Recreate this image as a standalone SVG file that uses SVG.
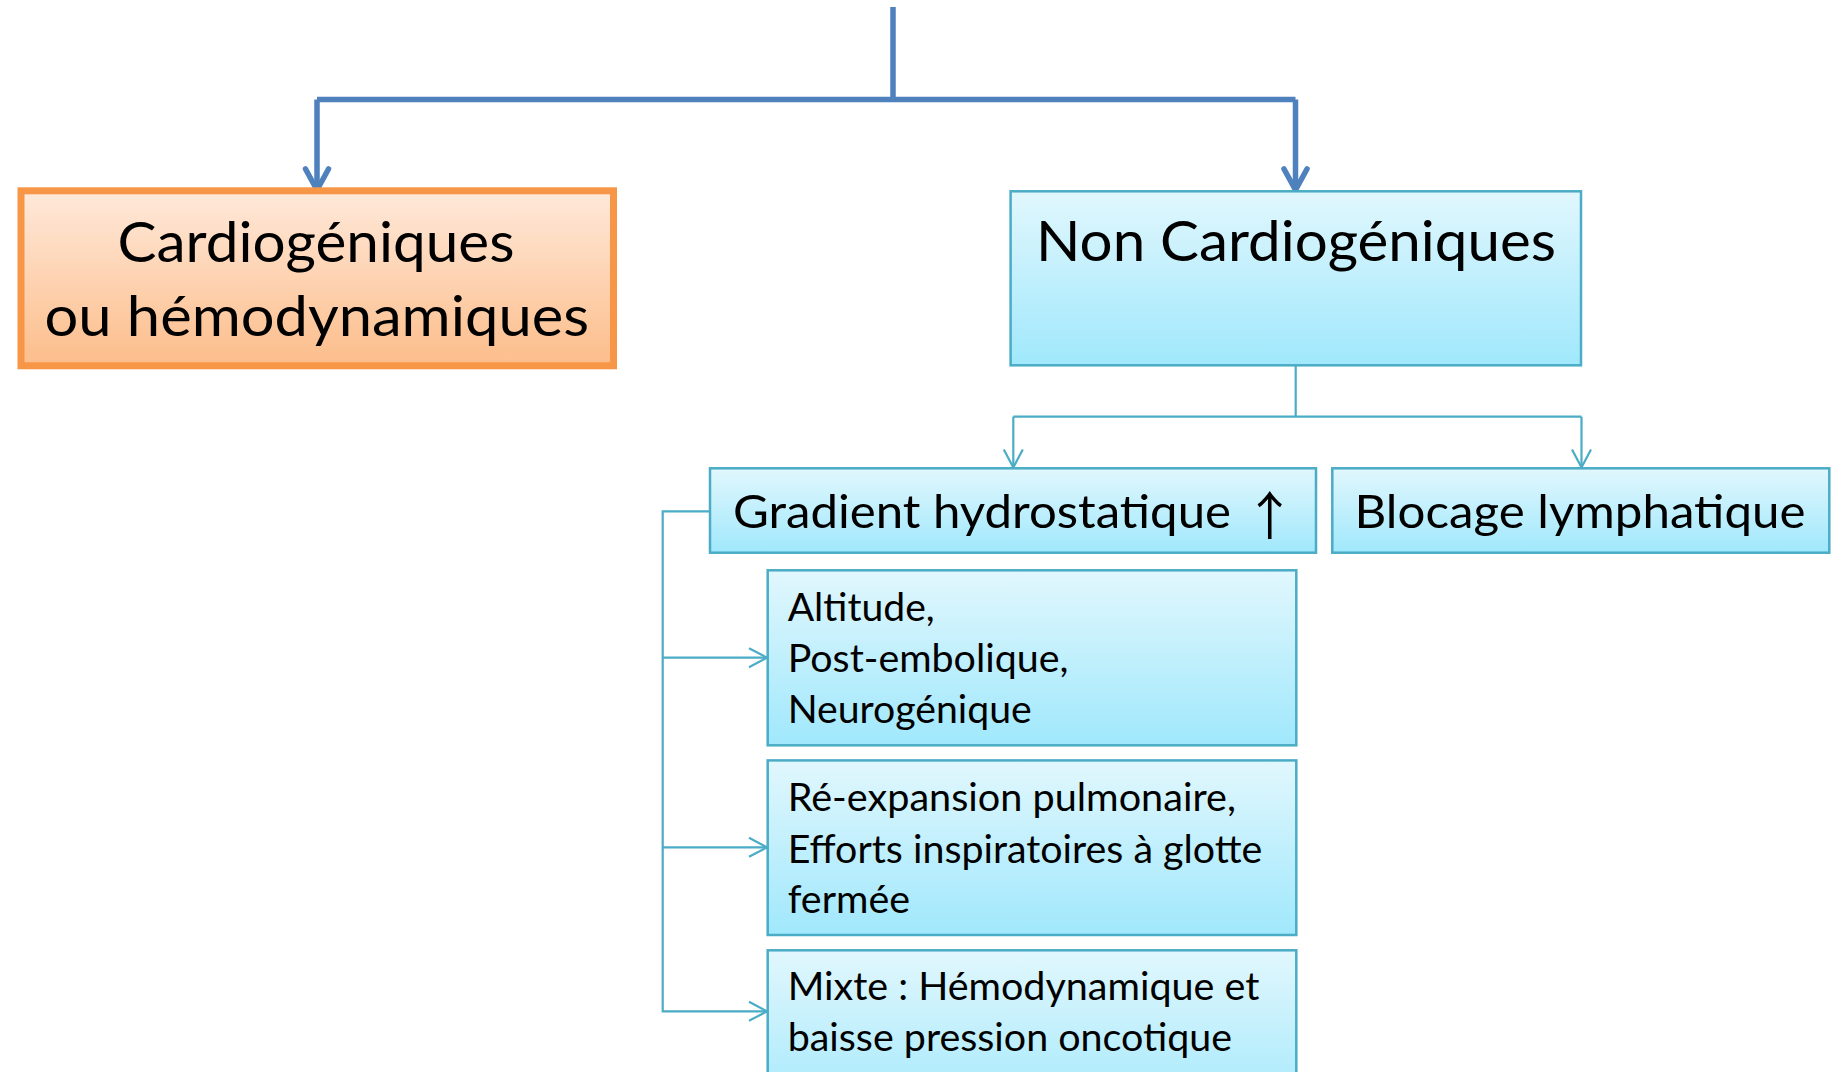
<svg xmlns="http://www.w3.org/2000/svg" width="1832" height="1072" viewBox="0 0 1832 1072">
  <defs>
    <linearGradient id="gOrange" x1="0" y1="0" x2="0" y2="1">
      <stop offset="0" stop-color="#FFE9DA"/>
      <stop offset="1" stop-color="#FCBD8A"/>
    </linearGradient>
    <linearGradient id="gCyan" x1="0" y1="0" x2="0" y2="1">
      <stop offset="0" stop-color="#E1F7FD"/>
      <stop offset="1" stop-color="#A0E8FC"/>
    </linearGradient>
    <marker id="arrBig" markerUnits="userSpaceOnUse" viewBox="-14 -26 28 30" refX="0" refY="0" markerWidth="28" markerHeight="30" orient="auto-start-reverse" overflow="visible">
      <path d="M-11.5,-21 L0,0 L11.5,-21" fill="none" stroke="#4F81BD" stroke-width="5.5" stroke-linecap="round" stroke-linejoin="round" transform="rotate(-90)"/>
    </marker>
    <marker id="arrSmall" markerUnits="userSpaceOnUse" viewBox="-12 -22 24 24" refX="0" refY="0" markerWidth="24" markerHeight="24" orient="auto" overflow="visible">
      <path d="M-9.5,-18 L0,0 L9.5,-18" fill="none" stroke="#4BACC6" stroke-width="2.2" stroke-linejoin="miter" transform="rotate(-90)"/>
    </marker>
  </defs>
  <style>
    .lbl { font-family: Lato, "Open Sans", "Liberation Sans", sans-serif; fill: #000; }
    .big { font-size: 57px; }
    .mid { font-size: 47px; }
    .sm { font-size: 38px; }
    .cyan { fill: url(#gCyan); stroke: #4BACC6; stroke-width: 2.5; }
    .orange { fill: url(#gOrange); stroke: #F79646; stroke-width: 7; }
    .main { fill: none; stroke: #4F81BD; stroke-width: 5.5; }
    .sec { fill: none; stroke: #4BACC6; stroke-width: 2.2; }
    .sym { font-family: "Noto Sans CJK SC", "DejaVu Sans", sans-serif; font-size: 52px; }
  </style>

  <g id="connectors">
    <path class="main" d="M893,7 V99.5"/>
    <path class="main" d="M317,99.5 H1295.5"/>
    <path class="main" d="M317,99.5 V190" marker-end="url(#arrBig)"/>
    <path class="main" d="M1295.5,99.5 V190" marker-end="url(#arrBig)"/>
    <path class="sec" d="M1295.7,366 V416.7"/>
    <path class="sec" d="M1013.3,416.7 H1581.5"/>
    <path class="sec" d="M1013.3,416.7 V467.5" marker-end="url(#arrSmall)"/>
    <path class="sec" d="M1581.5,416.7 V467.5" marker-end="url(#arrSmall)"/>
    <path class="sec" d="M710,511.3 H662.7 V1011.3 H767" marker-end="url(#arrSmall)"/>
    <path class="sec" d="M662.7,657.7 H767" marker-end="url(#arrSmall)"/>
    <path class="sec" d="M662.7,847.3 H767" marker-end="url(#arrSmall)"/>
  </g>

  <g id="node-cardiogeniques">
    <rect class="orange" x="21" y="190.8" width="592.5" height="175"/>
    <text class="lbl big" y="262.3"><tspan x="117.5" textLength="397" lengthAdjust="spacingAndGlyphs">Cardiogéniques</tspan><tspan x="44.5" y="336.2" textLength="544.5" lengthAdjust="spacingAndGlyphs">ou hémodynamiques</tspan></text>
  </g>

  <g id="node-non-cardiogeniques">
    <rect class="cyan" x="1010.6" y="191.3" width="570.4" height="174"/>
    <text class="lbl big" x="1036" y="261" textLength="520" lengthAdjust="spacingAndGlyphs">Non Cardiogéniques</text>
  </g>

  <g id="node-gradient">
    <rect class="cyan" x="710" y="468.3" width="606" height="84.4"/>
    <text class="lbl mid" y="527.7"><tspan x="733" textLength="498" lengthAdjust="spacingAndGlyphs">Gradient hydrostatique</tspan><tspan class="sym" x="1232" y="535"> ↑</tspan></text>
  </g>

  <g id="node-blocage">
    <rect class="cyan" x="1332.3" y="468.3" width="497" height="84.4"/>
    <text class="lbl mid" x="1354.5" y="527.7" textLength="451" lengthAdjust="spacingAndGlyphs">Blocage lymphatique</text>
  </g>

  <g id="node-altitude">
    <rect class="cyan" x="767.7" y="570.3" width="528.6" height="175"/>
    <text class="lbl sm"><tspan x="787.7" y="620.8" textLength="147" lengthAdjust="spacingAndGlyphs">Altitude,</tspan><tspan x="787.7" y="671.5" textLength="280.7" lengthAdjust="spacingAndGlyphs">Post-embolique,</tspan><tspan x="787.7" y="722.6" textLength="244.1" lengthAdjust="spacingAndGlyphs">Neurogénique</tspan></text>
  </g>

  <g id="node-reexpansion">
    <rect class="cyan" x="767.7" y="760.4" width="528.6" height="174.6"/>
    <text class="lbl sm"><tspan x="787.7" y="811" textLength="448.2" lengthAdjust="spacingAndGlyphs">Ré-expansion pulmonaire,</tspan><tspan x="787.7" y="862.9" textLength="474.6" lengthAdjust="spacingAndGlyphs">Efforts inspiratoires à glotte</tspan><tspan x="787.7" y="913" textLength="122.3" lengthAdjust="spacingAndGlyphs">fermée</tspan></text>
  </g>

  <g id="node-mixte">
    <rect class="cyan" x="767.7" y="950.3" width="528.6" height="175"/>
    <text class="lbl sm"><tspan x="787.7" y="999.7" textLength="471.6" lengthAdjust="spacingAndGlyphs">Mixte : Hémodynamique et</tspan><tspan x="787.7" y="1051.2" textLength="444.4" lengthAdjust="spacingAndGlyphs">baisse pression oncotique</tspan></text>
  </g>
</svg>
